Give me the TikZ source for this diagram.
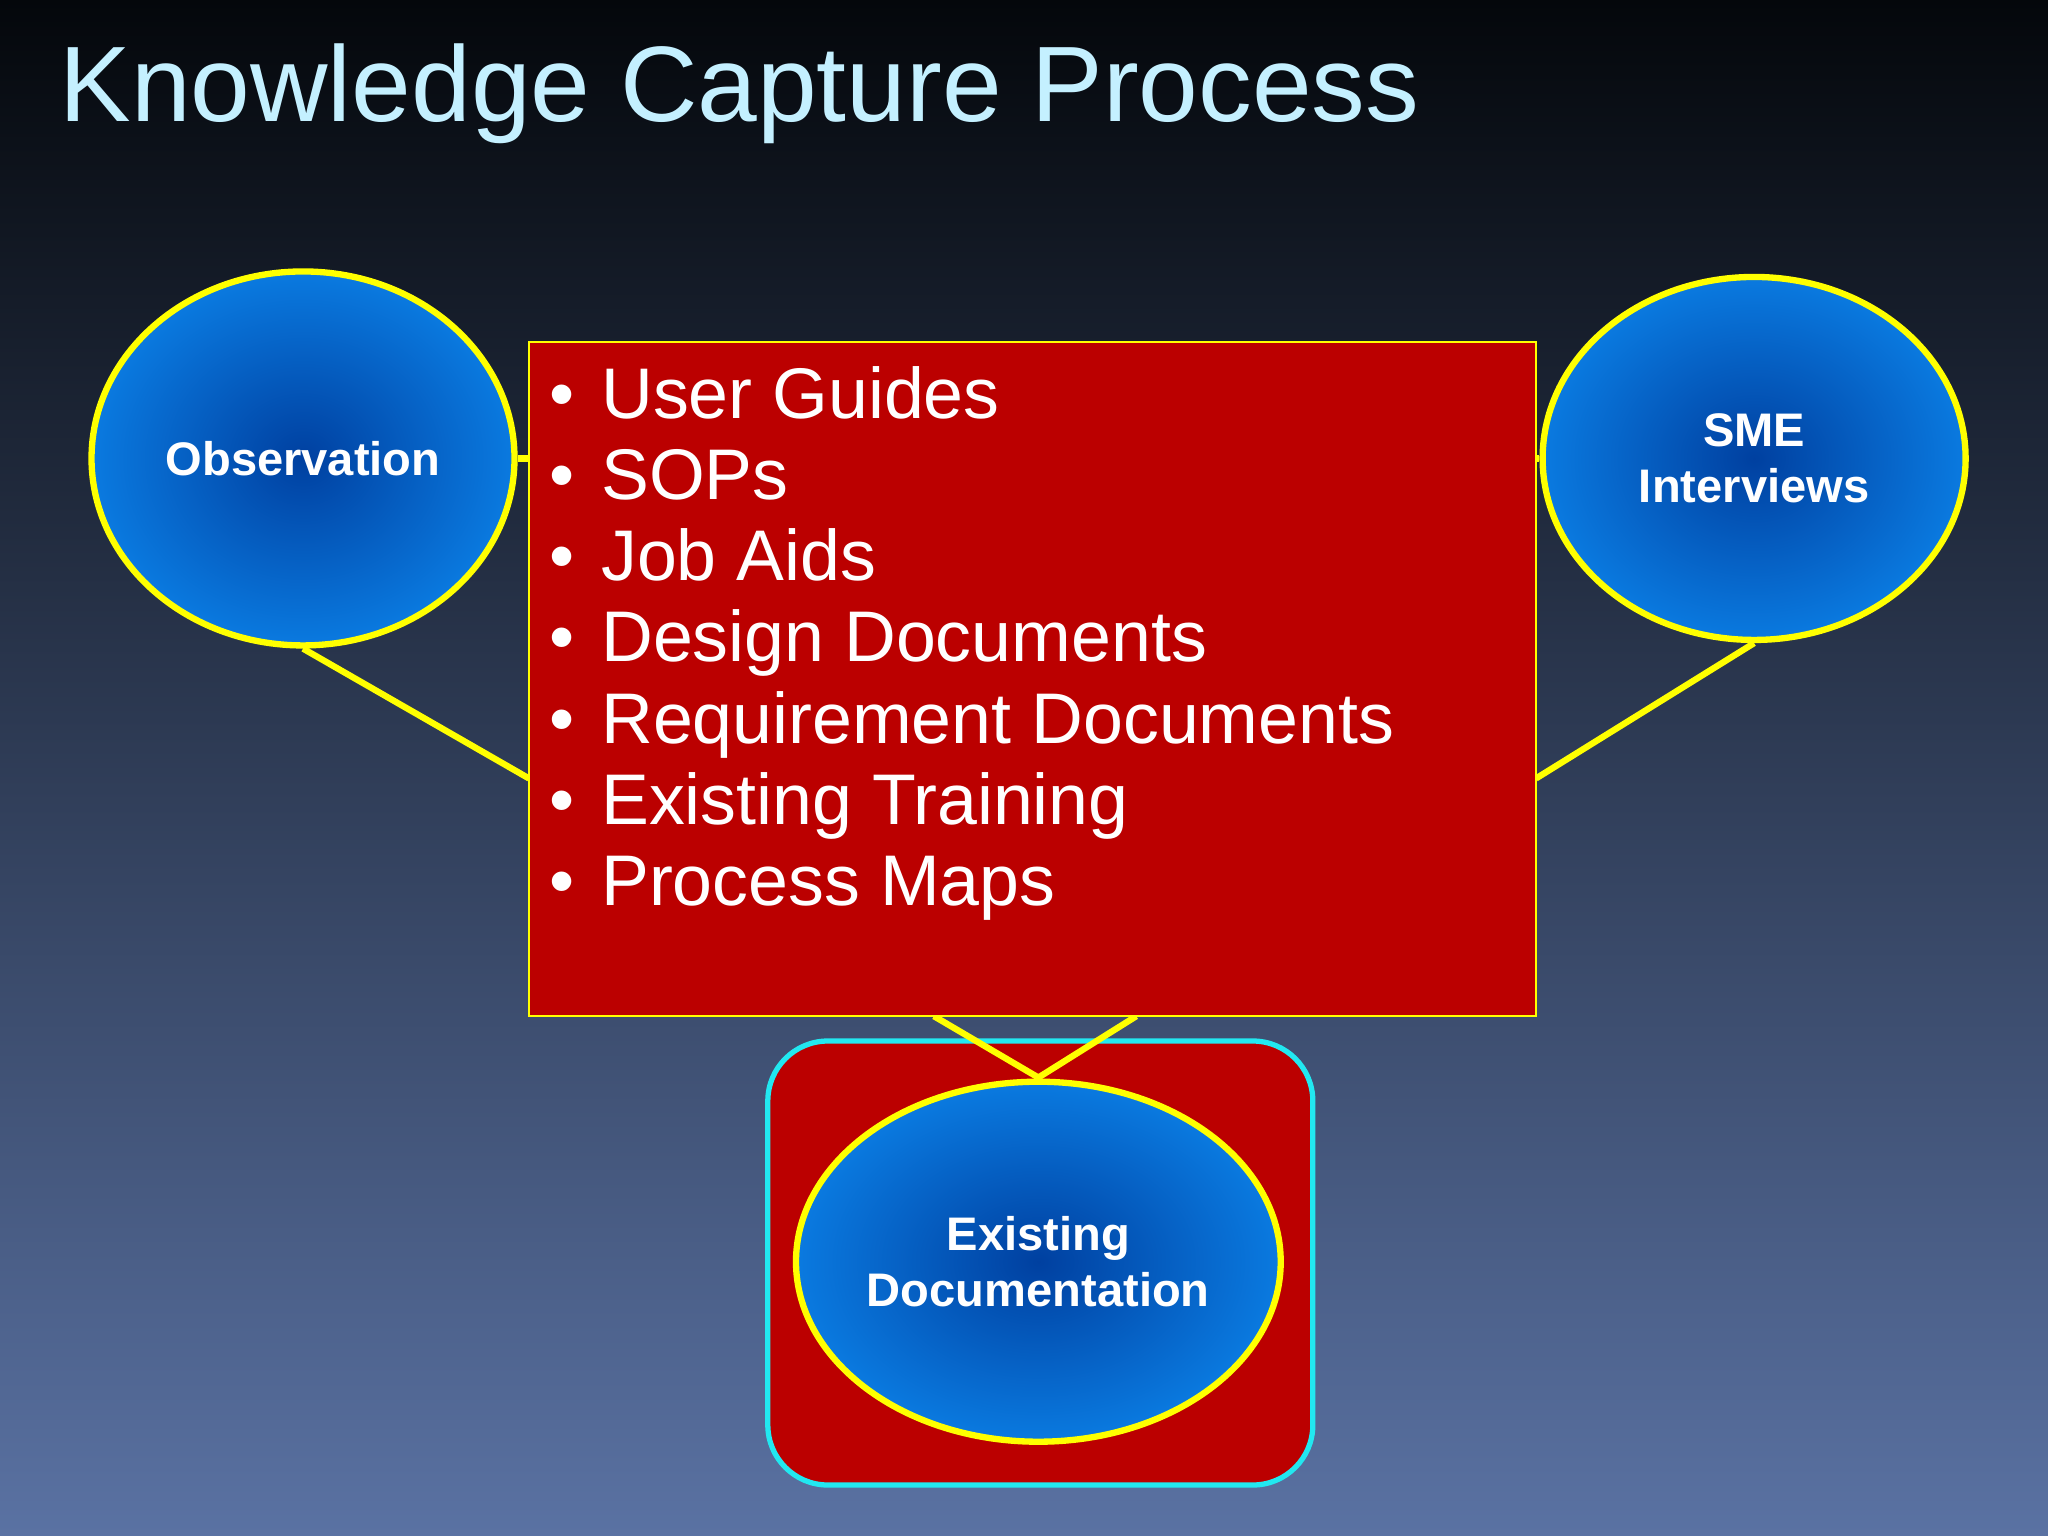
\documentclass[tikz,border=0pt]{standalone}
\usepackage{fontspec}
\setmainfont{Liberation Sans}
\usetikzlibrary{shapes.geometric}
\definecolor{bgtop}{HTML}{04070B}
\definecolor{bgbot}{HTML}{5A72A3}
\definecolor{titlec}{HTML}{C4F0FF}
\definecolor{boxred}{HTML}{BB0000}
\definecolor{ylw}{HTML}{FFFF00}
\definecolor{bdark}{HTML}{0040A0}
\definecolor{blight}{HTML}{0A7AE0}
\definecolor{cyanb}{HTML}{22E8F0}
\tikzset{
  bubble/.style={ellipse, draw=ylw, line width=1.8pt, inner color=bdark, outer color=blight,
     text=white, font=\fontsize{13.4}{16}\selectfont\bfseries, align=center, inner sep=0pt},
  link/.style={draw=ylw, line width=1.8pt},
}
\begin{document}
\begin{tikzpicture}[x=0.01306cm,y=-0.01306cm]
\shade[top color=bgtop, bottom color=bgbot] (0,0) rectangle (1568,1176);
\useasboundingbox (0,0) rectangle (1568,1176);
\node[anchor=base west, text=titlec, inner sep=0pt] (title) at (45,93)
  {\resizebox{13.6cm}{!}{\fontsize{28}{30}\selectfont Knowledge Capture Process}};
% nodes
\node[bubble, minimum width=4.23cm, minimum height=3.74cm] (obs) at (232,351) {Observation};
\node[bubble, minimum width=4.23cm, minimum height=3.63cm] (sme) at (1343,351) {SME\\Interviews};
\node[draw=cyanb, line width=1.5pt, fill=boxred, rounded corners=0.6cm, minimum width=5.45cm, minimum height=4.44cm] (edbox) at (796.5,967) {};
\coordinate (rl) at (405,596);
\coordinate (rr) at (1176,596);
\coordinate (ol) at (405,351);
\coordinate (sr) at (1176,351);
\coordinate (bl) at (715,778);
\coordinate (br) at (870,778);
\coordinate (tip) at (795,825);
\draw[link] (obs.south) -- (rl);
\draw[link] (sme.south) -- (rr);
\draw[link] (obs.east) -- (ol);
\draw[link] (sme.west) -- (sr);
\draw[link] (bl) -- (tip) -- (br);
\node[draw=ylw, line width=0.6pt, fill=boxred, minimum width=10.07cm, minimum height=6.74cm, inner sep=0pt] (docs) at (790.5,520) {};
\node[bubble, minimum width=4.26cm, minimum height=3.6cm] (ed) at (795,966) {Existing\\Documentation};
\node[anchor=north west, inner sep=0pt, text=white, align=left,
  font=\fontsize{20.4}{23.1}\selectfont] (list) at (420,280) {%
\makebox[0.52cm][l]{•}User Guides\\
\makebox[0.52cm][l]{•}SOPs\\
\makebox[0.52cm][l]{•}Job Aids\\
\makebox[0.52cm][l]{•}Design Documents\\
\makebox[0.52cm][l]{•}Requirement Documents\\
\makebox[0.52cm][l]{•}Existing Training\\
\makebox[0.52cm][l]{•}Process Maps};
\end{tikzpicture}
\end{document}
